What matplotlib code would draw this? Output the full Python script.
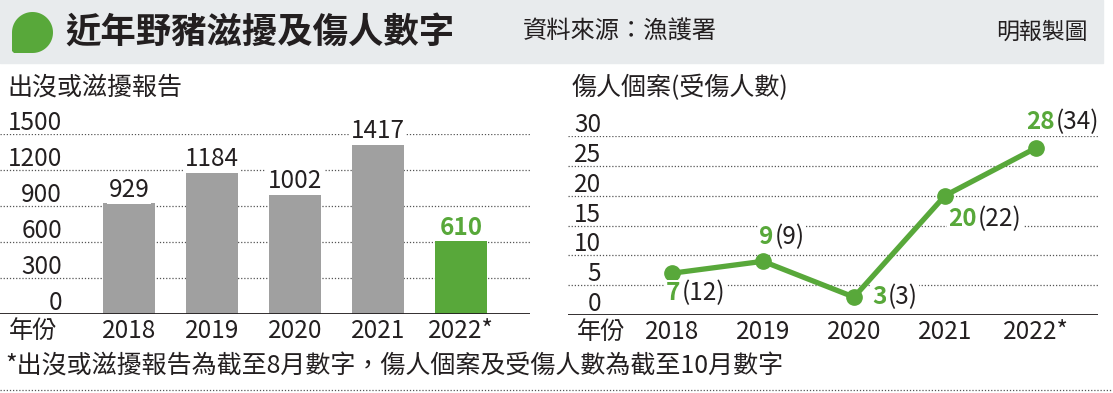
import numpy as np
import matplotlib
matplotlib.use('Agg')
import matplotlib.pyplot as plt
from matplotlib.patches import Rectangle, PathPatch
from matplotlib.path import Path
from matplotlib.lines import Line2D
import matplotlib.transforms as mtransforms

plt.rcParams['font.family'] = ['Noto Sans CJK TC', 'DejaVu Sans']

###############################################################################
# data

years = ['2018', '2019', '2020', '2021', '2022*']
reports = [929, 1184, 1002, 1417, 610]
cases = [7, 9, 3, 20, 28]
injured = [12, 9, 3, 22, 34]

left_ticks = [0, 300, 600, 900, 1200, 1500]
right_ticks = [0, 5, 10, 15, 20, 25, 30]

###############################################################################

W, H = 1113, 393
GREEN = '#58a83a'
GRAY = '#a0a0a0'
TXT = '#231f20'

fig = plt.figure(figsize=(W/100., H/100.), dpi=100)

def fx(x):
    return x/float(W)

def fy(y):
    return 1.-y/float(H)

def box(x0, y0, x1, y1):
    # pixel box -> [left, bottom, width, height] in figure fraction
    return [fx(x0), fy(y1), fx(x1)-fx(x0), fy(y0)-fy(y1)]

# header band
fig.patches.append(Rectangle((0, fy(63)), fx(1103), fy(0)-fy(63),
                             transform=fig.transFigure, color='#e8ebed', zorder=0))

# speech bubble icon
cx, cy, r = 32.5, 32.5, 20.5
ang = np.linspace(np.pi, -np.pi/2, 60)   # left -> top -> right -> bottom
pts = [(cx+r*np.cos(a), cy-r*np.sin(a)) for a in ang]
pts += [(cx-r+2, cy+r), (cx-r, cy+r-2), (cx-r, cy)]
verts = [(fx(x), fy(y)) for x, y in pts]
codes = [Path.MOVETO] + [Path.LINETO]*(len(verts)-2) + [Path.CLOSEPOLY]
fig.patches.append(PathPatch(Path(verts, codes), transform=fig.transFigure,
                             facecolor=GREEN, edgecolor='none', zorder=1))

fig.text(fx(65), fy(32), '近年野豬滋擾及傷人數字', fontsize=25.5, fontweight='bold',
         color=TXT, va='center', ha='left')
fig.text(fx(523), fy(32), '資料來源：漁護署', fontsize=17.5, color=TXT,
         va='center', ha='left')
fig.text(fx(1088), fy(32), '明報製圖', fontsize=16.5, color=TXT,
         va='center', ha='right')

fig.text(fx(7), fy(88), '出沒或滋擾報告', fontsize=18, color=TXT, va='center')
fig.text(fx(572), fy(88), '傷人個案(受傷人數)', fontsize=18, color=TXT, va='center')

fig.text(fx(5), fy(367), '*出沒或滋擾報告為截至8月數字，傷人個案及受傷人數為截至10月數字',
         fontsize=18, color=TXT, va='center')
fig.lines.append(Line2D([0, 1], [fy(390), fy(390)], transform=fig.transFigure,
                        color='#555555', lw=0.9, ls=(0, (1, 1.5))))

def off(ax, dx, dy, trans=None):
    if trans is None:
        trans = ax.transData
    return mtransforms.offset_copy(trans, fig=fig, x=dx, y=dy, units='dots')

###############################################################################
# left: bar chart

ax = fig.add_axes(box(0, 134, 530, 314))
ax.set_axis_off()
x = np.arange(len(years))
sp = 83.
ax.set_xlim(-129/sp, (530-129)/sp)
ax.set_ylim(0, 1500)
cols = [GRAY]*(len(years)-1) + [GREEN]
ax.bar(x, reports, width=52/sp, color=cols, zorder=2)
for t in left_ticks:
    if t == 0:
        ax.axhline(0, color=TXT, lw=1.3, zorder=3)
    else:
        ax.axhline(t, color='#555555', lw=0.9, ls=(0, (1, 1.5)), zorder=1)
    ax.text(62/530., t, str(t), transform=off(ax, 0, 4, ax.get_yaxis_transform()),
            ha='right', va='baseline', fontsize=17.5, color=TXT)
for i, v in enumerate(reports):
    last = i == len(reports)-1
    ax.text(i, v, str(v), transform=off(ax, 0, 6), ha='center', va='baseline',
            fontsize=17.5, color=GREEN if last else TXT,
            fontweight='bold' if last else 'normal', zorder=4,
            bbox=dict(facecolor='white', edgecolor='none', pad=1))
for i, yr in enumerate(years):
    ax.text(i, 0, yr, transform=off(ax, 0, -17), ha='center', va='center',
            fontsize=17.5, color=TXT)
ax.text((33-129)/sp, 0, '年份', transform=off(ax, 0, -17), ha='center', va='center',
        fontsize=17.5, color=TXT)

###############################################################################
# right: line chart

ax2 = fig.add_axes(box(568, 136, 1098, 315))
ax2.set_axis_off()
sp2 = 91.
ax2.set_xlim(-(672-568)/sp2, (1098-672)/sp2)
ax2.set_ylim(0, 30)
for t in right_ticks:
    if t == 0:
        ax2.axhline(0, color=TXT, lw=1.3, zorder=3)
    else:
        ax2.axhline(t, color='#555555', lw=0.9, ls=(0, (1, 1.5)), zorder=1)
    ax2.text(33/530., t, str(t), transform=off(ax2, 0, 4, ax2.get_yaxis_transform()),
             ha='right', va='baseline', fontsize=17.5, color=TXT)
ax2.plot(x, cases, color=GREEN, lw=3.8, marker='o', ms=11, zorder=5, clip_on=False)

lab_off = [(-6, -20), (-4, 24), (18, 0), (3, -23), (-10, 26)]
for i in range(len(cases)):
    dx, dy = lab_off[i]
    t1 = ax2.text(i, cases[i], str(cases[i]), transform=off(ax2, dx, dy),
                  ha='left', va='center', fontsize=17.5, color=GREEN,
                  fontweight='bold', zorder=6,
                  bbox=dict(facecolor='white', edgecolor='none', pad=1))
    ax2.annotate('(%d)' % injured[i], xy=(1, 0.5), xycoords=t1,
                 xytext=(1, 0), textcoords='offset points',
                 ha='left', va='center', fontsize=17.5, color=TXT, zorder=6,
                 bbox=dict(facecolor='white', edgecolor='none', pad=1),
                 annotation_clip=False)
for i, yr in enumerate(years):
    ax2.text(i, 0, yr, transform=off(ax2, 0, -17), ha='center', va='center',
             fontsize=17.5, color=TXT)
ax2.text((601-672)/sp2, 0, '年份', transform=off(ax2, 0, -17), ha='center', va='center',
         fontsize=17.5, color=TXT)

fig.savefig('out.png', dpi=100)
